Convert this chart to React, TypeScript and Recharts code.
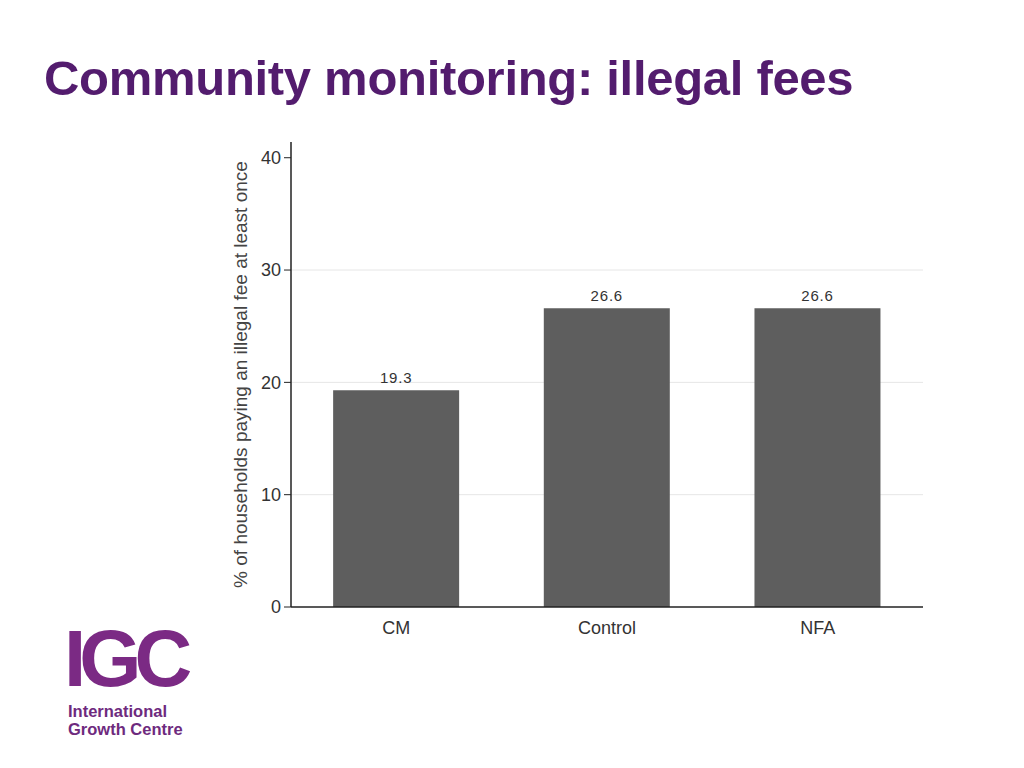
import React from "react";
import {
  BarChart,
  Bar,
  XAxis,
  YAxis,
  CartesianGrid,
  LabelList,
} from "recharts";

const groups = ["CM", "Control", "NFA"];
const shares = [19.3, 26.6, 26.6];
const yTicks = [0, 10, 20, 30, 40];
const gridValues = [10, 20, 30];

const data = groups.map((g, i) => ({ group: g, share: shares[i] }));

const FONT = "'Liberation Sans', Arial, Helvetica, sans-serif";

export default function App() {
  return (
    <div
      style={{
        position: "absolute",
        left: 0,
        top: 0,
        width: 1024,
        height: 768,
        background: "#fff",
        fontFamily: FONT,
        overflow: "hidden",
      }}
    >
      <div
        style={{
          position: "absolute",
          left: 44,
          top: 50,
          fontSize: 49,
          fontWeight: 700,
          color: "#531c6e",
          letterSpacing: -0.3,
          whiteSpace: "nowrap",
        }}
      >
        Community monitoring: illegal fees
      </div>

      <div style={{ position: "absolute", left: 0, top: 0 }}>
        <BarChart
          width={1024}
          height={768}
          data={data}
          margin={{ top: 142, right: 101, bottom: 128, left: 200 }}
          barCategoryGap="20%"
        >
          <CartesianGrid
            vertical={false}
            horizontalValues={gridValues}
            stroke="#e6e6e6"
          />
          <XAxis
            dataKey="group"
            height={33}
            tickLine={false}
            axisLine={{ stroke: "#222", strokeWidth: 1.5 }}
            tick={{ fill: "#333", fontSize: 18, fontFamily: FONT }}
            tickMargin={8}
          />
          <YAxis
            width={91}
            domain={[0, 41.4]}
            ticks={yTicks}
            interval={0}
            axisLine={{ stroke: "#222", strokeWidth: 1.5 }}
            tickLine={{ stroke: "#222" }}
            tickSize={7}
            tickMargin={3}
            tick={{ fill: "#333", fontSize: 18, fontFamily: FONT }}
            label={{
              value: "% of households paying an illegal fee at least once",
              angle: -90,
              position: "insideLeft",
              offset: 40,
              fill: "#444",
              fontSize: 19,
              fontFamily: FONT,
              style: { textAnchor: "middle" },
            }}
          />
          <Bar dataKey="share" fill="#5e5e5e" isAnimationActive={false}>
            <LabelList
              dataKey="share"
              position="top"
              offset={7}
              fill="#333"
              fontSize={15}
              fontFamily={FONT}
              letterSpacing={0.8}
              formatter={(v: number) => v.toFixed(1)}
            />
          </Bar>
        </BarChart>
      </div>

      <div
        style={{
          position: "absolute",
          left: 64,
          top: 614,
          fontSize: 80,
          fontWeight: 900,
          color: "#7b2a84",
          letterSpacing: -7,
          lineHeight: "90px",
          fontFamily: "'Liberation Sans', Arial, sans-serif",
        }}
      >
        IGC
      </div>
      <div
        style={{
          position: "absolute",
          left: 68,
          top: 702,
          fontSize: 16.5,
          fontWeight: 700,
          color: "#6e2a7e",
          lineHeight: "18px",
        }}
      >
        International
        <br />
        Growth Centre
      </div>
    </div>
  );
}
